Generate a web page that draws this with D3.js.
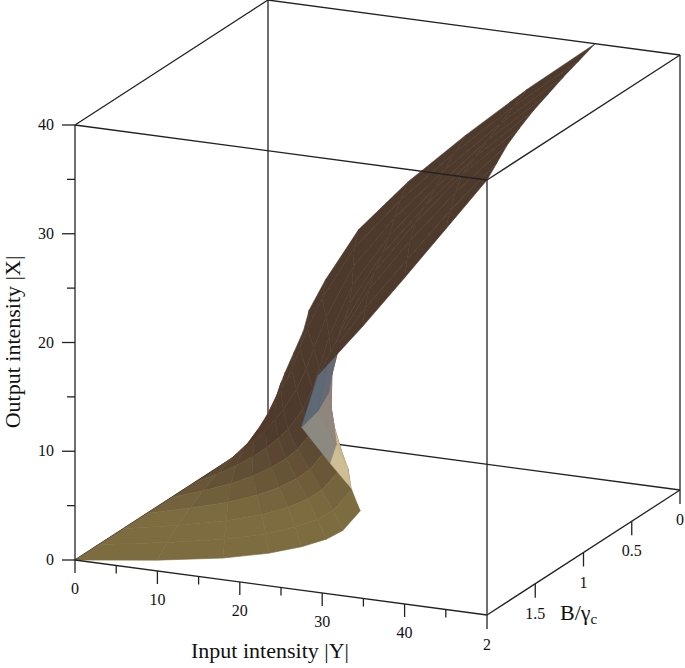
<!DOCTYPE html>
<html>
<head>
<meta charset="utf-8">
<script src="https://cdn.jsdelivr.net/npm/d3@7"></script>
<style>
  body { margin: 0; background: #fff; }
  text { font-family: "Liberation Serif", "DejaVu Serif", serif; fill: #111; }
</style>
</head>
<body>
<svg width="685" height="668"></svg>
<script>
// surface samples: for each B/γc row, input |Y| at each output level |X|
const bValues = [0, 0.25, 0.5, 0.75, 1, 1.25, 1.5, 1.75, 2];
const xLevels = [0, 1, 2, 3, 4, 5, 6, 8, 10, 12, 15, 20, 25, 30, 35, 40];
const yRows = [
  [0, 0.3, 0.6, 0.9, 1.2, 1.6, 2.1, 3.2, 4.3, 5.0, 7.0, 11.0, 17.0, 24.0, 31.5, 39.7],
  [0, 0.8, 1.6, 2.4, 3.1, 3.8, 4.5, 5.8, 6.8, 7.7, 9.5, 13.4, 19.0, 25.6, 32.8, 40.7],
  [0, 1.6, 3.0, 4.4, 5.6, 6.7, 7.7, 9.3, 10.5, 11.4, 12.9, 16.2, 21.2, 27.3, 34.1, 41.7],
  [0, 2.6, 4.9, 6.9, 8.6, 10.0, 11.2, 13.0, 14.2, 15.0, 16.2, 19.0, 23.5, 29.1, 35.4, 42.8],
  [0, 3.8, 7.2, 9.9, 12.1, 13.9, 15.3, 17.2, 18.2, 18.7, 19.4, 21.6, 25.6, 30.8, 36.8, 43.9],
  [0, 5.2, 9.8, 13.3, 16.0, 18.1, 19.7, 21.7, 22.3, 22.3, 22.4, 24.0, 27.6, 32.5, 38.2, 45.2],
  [0, 6.6, 12.5, 16.8, 20.0, 22.4, 24.1, 26.2, 26.4, 25.6, 24.9, 26.0, 29.8, 34.8, 40.3, 46.6],
  [0, 8.2, 15.2, 20.2, 23.8, 26.5, 28.4, 30.5, 30.2, 28.8, 26.6, 27.8, 32.3, 37.4, 42.6, 48.3],
  [0, 10, 18, 23.5, 27.5, 30.5, 32.5, 34.6, 33.5, 31, 27.5, 29.5, 34.9, 40, 45, 50]
];
const yTicks = [0, 10, 20, 30, 40];
const xTicks = [0, 10, 20, 30, 40];
const bTicks = [0, 0.5, 1, 1.5, 2];

const svg = d3.select("svg");

// unit box coordinates
const su = d3.scaleLinear().domain([0, 50]).range([0, 1]);
const sv = d3.scaleLinear().domain([0, 40]).range([0, 1]);
const sw = d3.scaleLinear().domain([2, 0]).range([0, 1]);

function project(Y, X, B) {
  const u = su(Y), v = sv(X), w = sw(B);
  return [75 + 412 * u + 193 * w, 560 + 55 * u - 435 * v - 125 * w];
}
// toward viewer
const view = [0.84, 0.62, -1.79];
function nearness(Y, X, B) {
  return view[0] * su(Y) + view[1] * sv(X) + view[2] * sw(B);
}

// box edges
const corners = (a, b, c) => [a ? 50 : 0, b ? 40 : 0, c ? 0 : 2];
const edges = [];
for (const i of [0, 1]) for (const j of [0, 1]) {
  edges.push([corners(0, i, j), corners(1, i, j)]);
  edges.push([corners(i, 0, j), corners(i, 1, j)]);
  edges.push([corners(i, j, 0), corners(i, j, 1)]);
}
const isHidden = e => e.some(p => p[0] === 0 && p[1] === 0 && p[2] === 0);
const line = d3.line();
function drawEdges(list) {
  svg.append("g").selectAll("path").data(list).join("path")
    .attr("d", e => line(e.map(p => project(...p))))
    .attr("fill", "none").attr("stroke", "#222").attr("stroke-width", 1.3);
}
drawEdges(edges.filter(isHidden));

// surface quads
const quads = [];
for (let i = 0; i < bValues.length - 1; i++) {
  for (let j = 0; j < xLevels.length - 1; j++) {
    const pts = [[i, j], [i, j + 1], [i + 1, j + 1], [i + 1, j]]
      .map(([a, b]) => [yRows[a][b], xLevels[b], bValues[a]]);
    const c = pts.reduce((s, p) => [s[0] + p[0] / 4, s[1] + p[1] / 4, s[2] + p[2] / 4], [0, 0, 0]);
    const w3 = pts.map(p => [su(p[0]), sv(p[1]), sw(p[2])]);
    const d1 = w3[2].map((x, k) => x - w3[0][k]);
    const d2 = w3[3].map((x, k) => x - w3[1][k]);
    let n = [d1[1] * d2[2] - d1[2] * d2[1], d1[2] * d2[0] - d1[0] * d2[2], d1[0] * d2[1] - d1[1] * d2[0]];
    const nl = Math.hypot(...n) || 1;
    n = n.map(x => x / nl);
    const facing = n[0] * view[0] + n[1] * view[1] + n[2] * view[2];
    quads.push({ pts, c, n, facing, depth: nearness(...c) });
  }
}
// the floor quad faces the viewer; use it as reference side
const refSign = Math.sign(quads[0].facing) || 1;
quads.sort((a, b) => a.depth - b.depth);

const floorCol = d3.interpolateRgb("#f04858", "#ffcf88");
const ribbonCol = d3.interpolateRgb("#a06a72", "#2c6878");
const clamp = x => Math.max(0, Math.min(1, x));
function quadColor(q) {
  const [Y, X, B] = q.c;
  let col;
  if (q.facing * refSign < 0) {
    // underside of the fold
    col = d3.interpolateRgb("#4e3a2c", "#7d6c40")(clamp((B - 1) + (10 - X) / 14));
  } else {
    const f = d3.rgb(floorCol(clamp(Y / 30)));
    const cream = d3.rgb("#f2ece2");
    const cw = clamp((1.2 - B) / 1.2) * clamp((X - 1) / 4);
    const lo = d3.interpolateRgb(f, cream)(cw * 0.85);
    const yel = d3.interpolateRgb(lo, "#fff0a8")(clamp((B - 1) / 0.8) * clamp((X - 3) / 4) * 0.8);
    const rib = ribbonCol(clamp(0.5 * B / 2 + 0.55 * (X - 12) / 28));
    col = d3.interpolateRgb(yel, rib)(clamp((X - 9) / 6));
  }
  return d3.color(col).formatHex();
}

svg.append("g").selectAll("path").data(quads).join("path")
  .attr("d", q => line(q.pts.map(p => project(...p))) + "Z")
  .attr("fill", quadColor)
  .attr("stroke", quadColor)
  .attr("stroke-width", 0.6)
  .attr("stroke-linejoin", "round");

drawEdges(edges.filter(e => !isHidden(e)));

// Y axis ticks (front bottom edge)
const gy = svg.append("g");
d3.range(0, 50, 5).forEach(t => {
  const [px, py] = project(t, 0, 2);
  gy.append("line").attr("x1", px).attr("y1", py).attr("x2", px).attr("y2", py + (t % 10 === 0 ? 13 : 8))
    .attr("stroke", "#222").attr("stroke-width", 1.3);
});
gy.selectAll("text").data(yTicks).join("text")
  .attr("x", t => project(t, 0, 2)[0]).attr("y", t => project(t, 0, 2)[1] + 34)
  .attr("text-anchor", "middle").attr("font-size", 16).text(d => d);

// X axis ticks (front left edge)
const gx = svg.append("g");
d3.range(0, 41, 5).forEach(t => {
  const [px, py] = project(0, t, 2);
  gx.append("line").attr("x1", px - (t % 10 === 0 ? 13 : 8)).attr("y1", py).attr("x2", px).attr("y2", py)
    .attr("stroke", "#222").attr("stroke-width", 1.3);
});
gx.selectAll("text").data(xTicks).join("text")
  .attr("x", 54).attr("y", t => project(0, t, 2)[1] + 5)
  .attr("text-anchor", "end").attr("font-size", 16).text(d => d);

// B axis ticks (right bottom edge)
const gb = svg.append("g");
bTicks.forEach(t => {
  const [px, py] = project(50, 0, t);
  gb.append("line").attr("x1", px).attr("y1", py).attr("x2", px).attr("y2", py + 14)
    .attr("stroke", "#222").attr("stroke-width", 1.3);
});
gb.selectAll("text").data(bTicks).join("text")
  .attr("x", t => project(50, 0, t)[0]).attr("y", t => project(50, 0, t)[1] + 35)
  .attr("text-anchor", "middle").attr("font-size", 16).text(d => d);

// axis titles
svg.append("text").attr("x", 270).attr("y", 658).attr("text-anchor", "middle")
  .attr("font-size", 22).text("Input intensity |Y|");
svg.append("text").attr("transform", "translate(20,342) rotate(-90)").attr("text-anchor", "middle")
  .attr("font-size", 22).text("Output intensity |X|");
const bt = svg.append("text").attr("x", 560).attr("y", 620).attr("font-size", 22);
bt.append("tspan").text("B/γ");
bt.append("tspan").attr("font-size", 15).attr("dy", 4).text("c");
</script>
</body>
</html>
